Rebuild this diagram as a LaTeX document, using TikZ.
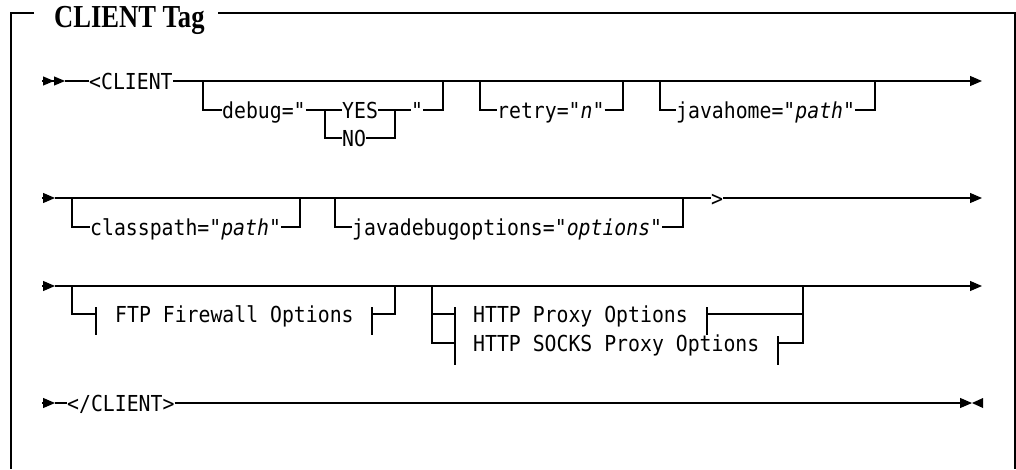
\documentclass[tikz,border=0pt]{standalone}
\usepackage{fontspec}
\newfontfamily\railfont[FakeStretch=0.9]{DejaVu Sans Mono}
\newfontfamily\titlefont[FakeStretch=0.83]{Liberation Serif}
\newcommand\qm{{\itshape"}}
\usetikzlibrary{arrows.meta}

\begin{document}
\begin{tikzpicture}[x=1pt,y=-1pt,>={Triangle[length=12pt,width=10pt]},rail/.style={line width=1.2pt},frame/.style={line width=1.3pt},kw/.style={font=\railfont\fontsize{22}{24}\selectfont,anchor=west,inner sep=0pt,text height=16pt,text depth=0pt},tick/.style={line width=1.2pt},twin/.style={rail,-{Triangle[length=11pt,width=9pt]Triangle[length=11pt,width=9pt]}}]
\useasboundingbox (0,0) rectangle (1016,469);
% frame and heading
\node[anchor=base west,inner sep=0pt,font=\titlefont\bfseries\fontsize{32}{34}\selectfont] (title) at (54,27) {CLIENT Tag};
\draw[frame] (34,13) -- (11,13) -- (11,469); \draw[frame] (218,13) -- (1015,13) -- (1015,469);
% row 1
\coordinate (r1) at (42,81); \coordinate (r1s) at (65,81); \coordinate (r1e) at (982,81);
\draw[twin] (r1) -- (r1s);
\node[kw] (client) at (89,81) {<CLIENT};
\draw[rail] (r1s) -- (client); \draw[rail,->] (client) -- (r1e);
\node[kw] (debug) at (222,110) {debug=\qm};
\node[kw] (yes) at (342,110) {YES}; \node[kw] (no) at (342,138) {NO};
\node[kw] (debugq) at (411,110) {\qm};
\coordinate (debugin) at (203,81); \coordinate (yesin) at (325,110); \coordinate (yesout) at (395,110); \coordinate (debugout) at (443,81);
\draw[rail] (debugin) |- (debug); \draw[rail] (debug) -- (yes); \draw[rail] (yesin) |- (no);
\draw[rail] (yes) -- (debugq); \draw[rail] (no) -| (yesout); \draw[rail] (debugq) -| (debugout);
\node[kw] (retry) at (497,110) {retry=\qm{\itshape n}\qm};
\coordinate (retryin) at (480,81); \coordinate (retryout) at (623,81);
\draw[rail] (retryin) |- (retry); \draw[rail] (retry) -| (retryout);
\node[kw] (jhome) at (676,110) {javahome=\qm{\itshape path}\qm};
\coordinate (jhomein) at (660,81); \coordinate (jhomeout) at (875,81);
\draw[rail] (jhomein) |- (jhome); \draw[rail] (jhome) -| (jhomeout);
% row 2
\coordinate (r2) at (42,198); \coordinate (r2s) at (55,198); \coordinate (r2e) at (982,198);
\draw[rail,->] (r2) -- (r2s);
\node[kw] (gt) at (711,198) {>};
\draw[rail] (r2s) -- (gt); \draw[rail,->] (gt) -- (r2e);
\node[kw] (cpath) at (90,227) {classpath=\qm{\itshape path}\qm};
\coordinate (cpathin) at (72,198); \coordinate (cpathout) at (300,198);
\draw[rail] (cpathin) |- (cpath); \draw[rail] (cpath) -| (cpathout);
\node[kw] (jdopt) at (352,227) {javadebugoptions=\qm{\itshape options}\qm};
\coordinate (jdoptin) at (335,198); \coordinate (jdoptout) at (683,198);
\draw[rail] (jdoptin) |- (jdopt); \draw[rail] (jdopt) -| (jdoptout);
% row 3
\coordinate (r3) at (42,286); \coordinate (r3s) at (55,286); \coordinate (r3e) at (982,286);
\draw[rail,->] (r3) -- (r3s); \draw[rail,->] (r3s) -- (r3e);
\node[kw] (ftp) at (115,314) {FTP Firewall Options};
\coordinate (ftpin) at (72,286); \coordinate (ftpl) at (96,314); \coordinate (ftpr) at (372,314); \coordinate (ftpout) at (395,286);
\draw[rail] (ftpin) |- (ftpl); \draw[rail] (ftpr) -| (ftpout);
\draw[tick] (96,307) -- (96,335); \draw[tick] (372,307) -- (372,335);
\node[kw] (proxy) at (473,314) {HTTP Proxy Options};
\node[kw] (socks) at (473,343) {HTTP SOCKS Proxy Options};
\coordinate (httpin) at (432,286); \coordinate (proxyl) at (455,314); \coordinate (socksl) at (455,343);
\coordinate (proxyr) at (707,314); \coordinate (socksr) at (778,343); \coordinate (httpout) at (803,286);
\draw[rail] (httpin) |- (proxyl); \draw[rail] (httpin) |- (socksl);
\draw[rail] (proxyr) -| (httpout); \draw[rail] (socksr) -| (httpout);
\draw[tick] (455,307) -- (455,365); \draw[tick] (707,307) -- (707,335); \draw[tick] (778,336) -- (778,365);
% row 4
\coordinate (r4) at (42,403); \coordinate (r4s) at (55,403); \coordinate (r4e) at (972,403);
\draw[rail,->] (r4) -- (r4s);
\node[kw] (endtag) at (67,403) {</CLIENT>};
\draw[rail] (r4s) -- (endtag); \draw[rail,->] (endtag) -- (r4e);
\fill (983,398) -- (r4e) -- (983,408) -- cycle;
\end{tikzpicture}
\end{document}
